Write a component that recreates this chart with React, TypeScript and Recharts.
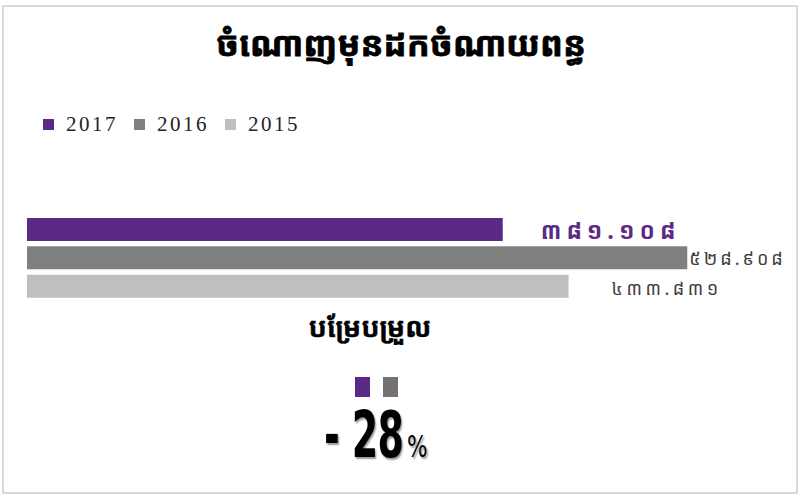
import { Bar, BarChart, Cell, LabelList, XAxis, YAxis } from "recharts";

const years = ["2017", "2016", "2015"];
const values = [381.108, 528.908, 433.831];
const colors = ["#5B2A86", "#7F7F7F", "#BFBFBF"];
const title = "ចំណោញមុនដកចំណាយពន្ធ";
const changeTitle = "បម្រែបម្រួល";

const khmerDigits = "០១២៣៤៥៦៧៨៩";
const toKhmer = (v: number) =>
  v.toFixed(3).replace(/[0-9]/g, (d) => khmerDigits[Number(d)]);

const data = years.map((y, i) => ({ year: y, v: values[i] }));
const change = Math.round(((values[0] - values[1]) / values[1]) * 100);

const KHMER = '"Khmer OS Battambang", "Noto Sans Khmer", "Noto Sans", sans-serif';

function BarLabel(props: any) {
  const { x, y, width, height, index, value } = props;
  const end = x + width;
  const cy = y + height / 2;
  if (index === 0) {
    return (
      <text x={end + 38} y={cy} dominantBaseline="central" fill="#5B2A86"
        fontSize={23} fontWeight="bold" fontFamily={KHMER} letterSpacing={5}>
        {toKhmer(value)}
      </text>
    );
  }
  if (index === 1) {
    return (
      <text x={end + 2} y={cy} dominantBaseline="central" fill="#404040"
        fontSize={18} fontFamily={KHMER} letterSpacing={3}>
        {toKhmer(value)}
      </text>
    );
  }
  return (
    <text x={end + 43} y={cy + 2} dominantBaseline="central" fill="#404040"
      fontSize={18} fontFamily={KHMER} letterSpacing={3.5}>
      {toKhmer(value)}
    </text>
  );
}

function LegendBox() {
  return (
    <div style={{ position: "absolute", left: 43, top: 112, display: "flex", alignItems: "center", fontFamily: '"Liberation Serif", serif', fontSize: 21, color: "#222" }}>
      {years.map((y, i) => (
        <div key={y} style={{ display: "flex", alignItems: "center", marginRight: 16 }}>
          <span style={{ width: 11, height: 11, background: colors[i], display: "inline-block", marginRight: 12 }} />
          <span style={{ letterSpacing: 2.5 }}>{y}</span>
        </div>
      ))}
    </div>
  );
}

export default function App() {
  return (
    <div style={{ position: "absolute", left: 0, top: 0, width: 798, height: 495, background: "#fff", fontFamily: KHMER }}>
      <div style={{ position: "absolute", left: 2, top: 5, width: 792, height: 485, border: "2px solid #D9D9D9" }} />
      <div style={{ position: "absolute", left: 0, top: 20, width: 802, textAlign: "center", fontSize: 34, fontWeight: "bold", color: "#000", WebkitTextStroke: "0.8px #000" }}>
        {title}
      </div>
      <LegendBox />
      <BarChart
        width={798}
        height={495}
        data={data}
        layout="vertical"
        margin={{ top: 215, right: 22, bottom: 195, left: 27 }}
        barSize={23}
        style={{ position: "absolute", left: 0, top: 0 }}
      >
        <XAxis type="number" domain={[0, 600]} hide />
        <YAxis type="category" dataKey="year" hide />
        <Bar dataKey="v" isAnimationActive={false}>
          {data.map((d, i) => (
            <Cell key={d.year} fill={colors[i]} />
          ))}
          <LabelList dataKey="v" content={<BarLabel />} />
        </Bar>
      </BarChart>
      <div style={{ position: "absolute", left: 0, top: 308, width: 740, textAlign: "center", fontSize: 27, fontWeight: "bold", color: "#000", WebkitTextStroke: "0.4px #000" }}>
        {changeTitle}
      </div>
      <div style={{ position: "absolute", left: 355, top: 377, width: 15, height: 20, background: colors[0] }} />
      <div style={{ position: "absolute", left: 383, top: 377, width: 15, height: 20, background: "#767171" }} />
      <div style={{ position: "absolute", left: 324, top: 398, fontFamily: '"Liberation Sans Narrow", "DejaVu Sans Condensed", sans-serif', fontWeight: "bold", color: "#000", textShadow: "2px 2px 2px #999", whiteSpace: "nowrap", display: "flex", alignItems: "baseline" }}>
        <span style={{ fontSize: 64, display: "inline-block", transform: "scaleX(0.66)", transformOrigin: "left", width: 83, letterSpacing: -1 }}>{`- ${Math.abs(change)}`}</span>
        <span style={{ fontSize: 30, fontWeight: "normal", transform: "scaleX(0.8)", display: "inline-block", transformOrigin: "left" }}>%</span>
      </div>
    </div>
  );
}
